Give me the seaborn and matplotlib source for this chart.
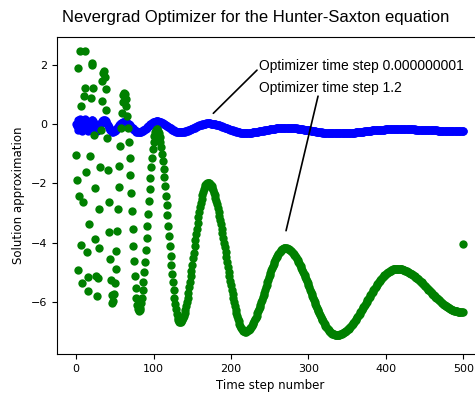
import matplotlib
matplotlib.use("Agg")
import matplotlib.pyplot as plt
import seaborn as sns
import numpy as np

# Optimizer time step 1.2 (green), one value per time step 0..500
green_start = [
    -1.04, -1.89, -4.93, 1.89, -2.42, 2.48, 0.62, -4.08, -5.38, -2.62,
    0.96, 2.48, 1.21, -1.63, -4.33, -5.63, -5.16, -3.38, -1.09, 0.90,
    2.00, 2.08, 1.21, -0.37, -2.14, -3.89, -5.13, -5.80, -5.21, -4.17,
    -2.87, -1.46, -0.20, 0.79, 1.46, 1.75, 1.80, 1.60, 1.18, 0.47,
    -0.48, -1.54, -2.62, -3.64, -4.56, -5.26, -5.78, -6.06]
green_mid = [
    -5.98, -5.75, -5.38, -4.88, -4.28, -3.60, -2.87, -2.13, -1.40, -0.72,
    -0.11, 0.38, 0.75, 0.98, 1.06,
    1.01, 0.86, 0.62, 0.28, -0.13, -0.61, -1.14, -1.72, -2.32, -2.93,
    -3.53, -4.11, -4.64, -5.12, -5.53, -5.87, -6.11, -6.26, -6.31,
    -6.28, -6.20, -6.05, -5.86, -5.62, -5.33, -5.01, -4.65, -4.26, -3.86,
    -3.44, -3.02, -2.60, -2.20, -1.81, -1.45, -1.13, -0.84, -0.60, -0.40,
    -0.26, -0.18, -0.15]
green_late = [
    -0.17, -0.22, -0.31, -0.43, -0.59, -0.78, -0.99, -1.23, -1.50, -1.79,
    -2.09, -2.41, -2.74, -3.08, -3.43, -3.77, -4.11, -4.44, -4.76, -5.06,
    -5.35, -5.62, -5.86, -6.07, -6.26, -6.42, -6.54, -6.63, -6.68, -6.70,
    -6.69, -6.66, -6.62, -6.56, -6.48, -6.38, -6.27, -6.15, -6.01, -5.86,
    -5.69, -5.52, -5.33, -5.14, -4.95, -4.75, -4.54, -4.34, -4.13, -3.92,
    -3.72, -3.53, -3.34, -3.15, -2.98, -2.81, -2.66, -2.52, -2.40, -2.29,
    -2.19, -2.11, -2.05, -2.01, -1.98, -1.97,
    -1.98, -1.99, -2.02, -2.06, -2.10, -2.16, -2.23, -2.31, -2.39, -2.49,
    -2.60, -2.71, -2.83, -2.96, -3.09, -3.23, -3.38, -3.53, -3.68, -3.84,
    -4.00, -4.16, -4.33, -4.49, -4.65, -4.82, -4.98, -5.14, -5.30, -5.45,
    -5.60, -5.75, -5.89, -6.02, -6.15, -6.27, -6.38, -6.49, -6.58, -6.67,
    -6.75, -6.82, -6.88, -6.92, -6.96, -6.99, -7.00, -7.01]
green_tail = [
    -7.01, -7.00, -6.99, -6.97, -6.95, -6.92, -6.89, -6.85, -6.81, -6.76,
    -6.71, -6.66, -6.60, -6.54, -6.47, -6.40, -6.33, -6.26, -6.18, -6.10,
    -6.02, -5.94, -5.85, -5.77, -5.69, -5.60, -5.51, -5.43, -5.35, -5.26,
    -5.18, -5.10, -5.02, -4.94, -4.87, -4.80, -4.73, -4.66, -4.60, -4.54,
    -4.49, -4.44, -4.39, -4.35, -4.31, -4.28, -4.25, -4.23, -4.21, -4.20,
    -4.19, -4.19,
    -4.19, -4.20, -4.21, -4.22, -4.23, -4.25, -4.27, -4.30, -4.32, -4.35,
    -4.39, -4.42, -4.46, -4.50, -4.55, -4.60, -4.65, -4.70, -4.75, -4.81,
    -4.87, -4.93, -4.99, -5.05, -5.11, -5.18, -5.25, -5.31, -5.38, -5.45,
    -5.52, -5.59, -5.66, -5.73, -5.80, -5.87, -5.94, -6.01, -6.07, -6.14,
    -6.21, -6.27, -6.33, -6.40, -6.45, -6.51, -6.57, -6.62, -6.67, -6.72,
    -6.77, -6.82, -6.86, -6.90, -6.93, -6.97, -7.00, -7.02, -7.05, -7.07,
    -7.09, -7.10, -7.11, -7.12, -7.13, -7.13,
    -7.13, -7.13, -7.12, -7.12, -7.11, -7.10, -7.09, -7.07, -7.06, -7.04,
    -7.02, -7.00, -6.98, -6.96, -6.93, -6.91, -6.88, -6.85, -6.82, -6.79,
    -6.75, -6.72, -6.68, -6.65, -6.61, -6.57, -6.53, -6.49, -6.45, -6.41,
    -6.36, -6.32, -6.28, -6.23, -6.19, -6.15, -6.10, -6.06, -6.01, -5.96,
    -5.92, -5.88, -5.83, -5.79, -5.74, -5.70, -5.66, -5.61, -5.57, -5.53,
    -5.49, -5.45, -5.41, -5.37, -5.34, -5.30, -5.27, -5.23, -5.20, -5.17,
    -5.14, -5.11, -5.09, -5.06, -5.04, -5.02, -5.00, -4.98, -4.96, -4.95,
    -4.93, -4.92, -4.91, -4.90, -4.90, -4.89, -4.89, -4.89,
    -4.89, -4.89, -4.89, -4.90, -4.90, -4.91, -4.91, -4.92, -4.93, -4.94,
    -4.95, -4.96, -4.97, -4.99, -5.00, -5.02, -5.03, -5.05, -5.07, -5.08,
    -5.10, -5.12, -5.14, -5.16, -5.19, -5.21, -5.23, -5.25, -5.28, -5.30,
    -5.33, -5.35, -5.38, -5.40, -5.43, -5.46, -5.48, -5.51, -5.54, -5.56,
    -5.59, -5.62, -5.65, -5.67, -5.70, -5.73, -5.76, -5.78, -5.81, -5.84,
    -5.86, -5.89, -5.91, -5.94, -5.96, -5.99, -6.01, -6.03, -6.05, -6.07,
    -6.10, -6.12, -6.14, -6.15, -6.17, -6.19, -6.21, -6.22, -6.24, -6.25,
    -6.27, -6.28, -6.29, -6.30, -6.31, -6.32, -6.33, -6.33, -6.34, -6.34,
    -6.35, -6.35, -6.35, -6.35,
    -6.35, -4.05]

# Optimizer time step 0.000000001 (blue)
blue_start = [
    0.00, -0.05, -0.19, 0.14, -0.07, 0.17, 0.08, -0.15, -0.22, -0.08,
    0.10, 0.17, 0.11, -0.03, -0.17, -0.23, -0.21, -0.12, -0.01, 0.09,
    0.15, 0.15, 0.11, 0.03, -0.06, -0.14, -0.20, -0.24, -0.21, -0.16,
    -0.09, -0.02, 0.04, 0.09, 0.12, 0.13, 0.14, 0.13, 0.11, 0.07,
    0.02, -0.03, -0.08, -0.13, -0.18, -0.21, -0.24, -0.25]
blue_mid = [
    -0.25, -0.24, -0.22, -0.20, -0.17, -0.14, -0.10, -0.07, -0.03, 0.00,
    0.03, 0.05, 0.07, 0.08, 0.08,
    0.08, 0.07, 0.06, 0.04, 0.02, 0.00, -0.02, -0.05, -0.08, -0.11,
    -0.14, -0.17, -0.19, -0.21, -0.23, -0.25, -0.26, -0.27, -0.27,
    -0.27, -0.26, -0.25, -0.24, -0.23, -0.21, -0.19, -0.17, -0.15, -0.12,
    -0.10, -0.07, -0.05, -0.02, 0.00, 0.02, 0.04, 0.06, 0.07, 0.08,
    0.09, 0.10, 0.10]
blue_late = [
    0.10, 0.10, 0.09, 0.08, 0.08, 0.06, 0.05, 0.04, 0.02, 0.01,
    -0.01, -0.03, -0.05, -0.07, -0.09, -0.10, -0.12, -0.14, -0.16, -0.18,
    -0.19, -0.21, -0.22, -0.23, -0.25, -0.25, -0.26, -0.27, -0.27, -0.27,
    -0.27, -0.27, -0.26, -0.26, -0.26, -0.25, -0.24, -0.23, -0.23, -0.22,
    -0.21, -0.20, -0.18, -0.17, -0.16, -0.15, -0.13, -0.12, -0.11, -0.09,
    -0.08, -0.07, -0.06, -0.05, -0.03, -0.02, -0.01, -0.01, 0.00, 0.01,
    0.02, 0.02, 0.02, 0.03, 0.03, 0.03,
    0.03, 0.03, 0.03, 0.02, 0.02, 0.02, 0.01, 0.01, 0.00, 0.00,
    -0.01, -0.02, -0.02, -0.03, -0.04, -0.05, -0.06, -0.07, -0.08, -0.09,
    -0.10, -0.11, -0.12, -0.13, -0.14, -0.15, -0.16, -0.17, -0.18, -0.19,
    -0.20, -0.21, -0.22, -0.23, -0.24, -0.24, -0.25, -0.26, -0.26, -0.27,
    -0.27, -0.28, -0.28, -0.29, -0.29, -0.29, -0.29, -0.29]
blue_tail = [
    -0.29, -0.29, -0.29, -0.29, -0.29, -0.28, -0.28, -0.28, -0.28, -0.27,
    -0.27, -0.27, -0.27, -0.26, -0.26, -0.25, -0.25, -0.24, -0.24, -0.24,
    -0.23, -0.23, -0.22, -0.22, -0.21, -0.21, -0.20, -0.20, -0.19, -0.18,
    -0.18, -0.17, -0.17, -0.17, -0.16, -0.16, -0.15, -0.15, -0.15, -0.14,
    -0.14, -0.14, -0.13, -0.13, -0.13, -0.13, -0.12, -0.12, -0.12, -0.12,
    -0.12, -0.12,
    -0.12, -0.12, -0.12, -0.12, -0.12, -0.12, -0.13, -0.13, -0.13, -0.13,
    -0.13, -0.14, -0.14, -0.14, -0.14, -0.15, -0.15, -0.15, -0.16, -0.16,
    -0.16, -0.17, -0.17, -0.18, -0.18, -0.18, -0.19, -0.19, -0.20, -0.20,
    -0.21, -0.21, -0.22, -0.22, -0.22, -0.23, -0.23, -0.24, -0.24, -0.25,
    -0.25, -0.25, -0.26, -0.26, -0.27, -0.27, -0.27, -0.28, -0.28, -0.28,
    -0.29, -0.29, -0.29, -0.29, -0.30, -0.30, -0.30, -0.30, -0.30, -0.31,
    -0.31, -0.31, -0.31, -0.31, -0.31, -0.31,
    -0.31, -0.31, -0.31, -0.31, -0.31, -0.31, -0.31, -0.31, -0.31, -0.30,
    -0.30, -0.30, -0.30, -0.30, -0.30, -0.29, -0.29, -0.29, -0.29, -0.29,
    -0.28, -0.28, -0.28, -0.28, -0.27, -0.27, -0.27, -0.27, -0.26, -0.26,
    -0.26, -0.26, -0.25, -0.25, -0.25, -0.24, -0.24, -0.24, -0.24, -0.23,
    -0.23, -0.23, -0.22, -0.22, -0.22, -0.21, -0.21, -0.21, -0.21, -0.20,
    -0.20, -0.20, -0.19, -0.19, -0.19, -0.19, -0.19, -0.18, -0.18, -0.18,
    -0.18, -0.18, -0.17, -0.17, -0.17, -0.17, -0.17, -0.17, -0.16, -0.16,
    -0.16, -0.16, -0.16, -0.16, -0.16, -0.16, -0.16, -0.16,
    -0.16, -0.16, -0.16, -0.16, -0.16, -0.16, -0.16, -0.16, -0.16, -0.16,
    -0.16, -0.16, -0.16, -0.17, -0.17, -0.17, -0.17, -0.17, -0.17, -0.17,
    -0.17, -0.17, -0.17, -0.18, -0.18, -0.18, -0.18, -0.18, -0.18, -0.18,
    -0.18, -0.19, -0.19, -0.19, -0.19, -0.19, -0.19, -0.19, -0.20, -0.20,
    -0.20, -0.20, -0.20, -0.20, -0.20, -0.21, -0.21, -0.21, -0.21, -0.21,
    -0.21, -0.21, -0.22, -0.22, -0.22, -0.22, -0.22, -0.22, -0.22, -0.22,
    -0.23, -0.23, -0.23, -0.23, -0.23, -0.23, -0.23, -0.23, -0.23, -0.23,
    -0.24, -0.24, -0.24, -0.24, -0.24, -0.24, -0.24, -0.24, -0.24, -0.24,
    -0.24, -0.24, -0.24, -0.24,
    -0.24, -0.23]

green = green_start + green_mid + green_late + green_tail
blue = blue_start + blue_mid + blue_late + blue_tail

x_ticks = [0, 100, 200, 300, 400, 500]
y_ticks = [-6, -4, -2, 0, 2]

fig = plt.figure(figsize=(4.75, 3.94), dpi=100)
ax = fig.add_axes([0.1194, 0.1015, 0.8968, 0.8038])

sns.scatterplot(x=np.arange(len(blue)), y=blue, color="blue", s=36,
                linewidth=0, ax=ax, zorder=2)
sns.scatterplot(x=np.arange(len(green)), y=green, color="green", s=36,
                linewidth=0, ax=ax, zorder=3)

ax.set_xlim(-25, 525)
ax.set_ylim(-7.77, 2.94)
ax.set_xticks(x_ticks)
ax.set_yticks(y_ticks)
ax.tick_params(labelsize=8)
ax.set_xlabel("Time step number", fontsize=8.5)
ax.set_ylabel("Solution approximation", fontsize=8.5)

fig.text(0.539, 0.945, "Nevergrad Optimizer for the Hunter-Saxton equation",
         ha="center", va="baseline", fontsize=12, family="Liberation Sans")

ax.annotate("", xy=(177.2, 0.37), xytext=(233.6, 1.83),
            arrowprops=dict(arrowstyle="-", color="black", lw=1.2,
                            shrinkA=0, shrinkB=0))
ax.text(236.2, 1.97, "Optimizer time step 0.000000001", ha="left",
        va="center", fontsize=10, family="Liberation Sans")
ax.annotate("", xy=(271.1, -3.60), xytext=(312.4, 0.95),
            arrowprops=dict(arrowstyle="-", color="black", lw=1.2,
                            shrinkA=0, shrinkB=0))
ax.text(236.2, 1.22, "Optimizer time step 1.2", ha="left",
        va="center", fontsize=10, family="Liberation Sans")

fig.savefig("out.png", dpi=100)
